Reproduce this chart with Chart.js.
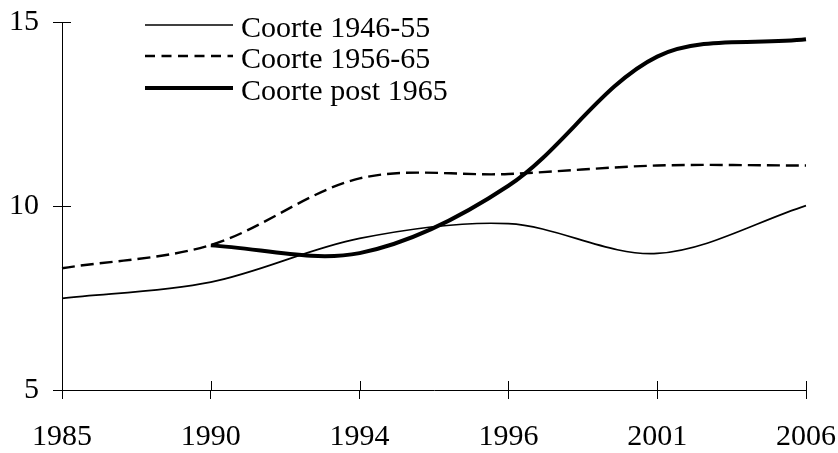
<!DOCTYPE html>
<html>
<head>
<meta charset="utf-8">
<script src="https://cdn.jsdelivr.net/npm/chart.js@4.4.0/dist/chart.umd.min.js"></script>
<style>
html,body{margin:0;padding:0;background:#fff;}
#wrap{position:relative;width:838px;height:453px;overflow:hidden;}
#chart{position:absolute;left:0;top:0;}
#legend{position:absolute;left:0;top:0;width:838px;height:453px;pointer-events:none;
  font-family:'Liberation Serif','Times New Roman',serif;font-size:30px;color:#000;}
.lg-text{position:absolute;white-space:nowrap;line-height:30px;height:30px;}
.lg-line{position:absolute;}
</style>
</head>
<body>
<div id="wrap">
  <canvas id="chart" width="838" height="453"></canvas>
  <div id="legend"></div>
</div>
<script>
// ---- data ----
const categories = ['1985', '1990', '1994', '1996', '2001', '2006'];
const seriesNames = ['Coorte 1946-55', 'Coorte 1956-65', 'Coorte post 1965'];
const cohort1946_55 = [7.49, 7.93, 9.12, 9.52, 8.71, 10.01];
const cohort1956_65 = [8.31, 8.94, 10.75, 10.87, 11.10, 11.10];
const cohortPost1965 = [null, 8.93, 8.72, 10.55, 14.06, 14.53];
const yTicks = [5, 10, 15];

// ---- styles ----
const lineStyles = [
  { borderWidth: 1.7, borderDash: [], legendDash: '' },
  { borderWidth: 2.4, borderDash: [13, 6], legendDash: '10 6.5' },
  { borderWidth: 4, borderDash: [], legendDash: '' }
];
const seriesValues = [cohort1946_55, cohort1956_65, cohortPost1965];
const FONT = "'Liberation Serif', 'Times New Roman', serif";

const datasets = seriesValues.map((vals, i) => ({
  label: seriesNames[i],
  data: vals,
  borderColor: '#000',
  backgroundColor: '#000',
  borderWidth: lineStyles[i].borderWidth,
  borderDash: lineStyles[i].borderDash,
  pointRadius: 0,
  pointHoverRadius: 0,
  tension: 0.33,
  fill: false,
  spanGaps: false
}));

const innerTicks = {
  id: 'innerTicks',
  afterDraw(chart) {
    const { ctx, chartArea, scales } = chart;
    const x = scales.x, y = scales.y;
    ctx.save();
    ctx.strokeStyle = '#000';
    ctx.lineWidth = 1;
    ctx.beginPath();
    x.ticks.forEach((t, i) => {
      const px = Math.round(x.getPixelForTick(i)) + 0.5;
      ctx.moveTo(px, chartArea.bottom);
      ctx.lineTo(px, chartArea.bottom - 9);
    });
    y.ticks.forEach((t, i) => {
      const py = Math.round(y.getPixelForTick(i)) + 0.5;
      ctx.moveTo(chartArea.left, py);
      ctx.lineTo(chartArea.left + 9, py);
    });
    ctx.stroke();
    ctx.restore();
  }
};

const chart = new Chart(document.getElementById('chart'), {
  type: 'line',
  data: { labels: categories, datasets },
  options: {
    responsive: false,
    animation: false,
    devicePixelRatio: 1,
    layout: { padding: { top: 22, right: 32, left: 0, bottom: 0 } },
    plugins: { legend: { display: false }, tooltip: { enabled: false } },
    events: [],
    scales: {
      x: {
        type: 'category',
        offset: false,
        grid: { display: true, drawOnChartArea: false, drawTicks: true, tickLength: 9, color: '#000', lineWidth: 1 },
        border: { display: true, color: '#000', width: 1 },
        ticks: { color: '#000', font: { family: FONT, size: 30 }, padding: 20, maxRotation: 0, autoSkip: false },
        afterFit: s => { s.height = 63; s.paddingLeft = 0; s.paddingRight = 0; }
      },
      y: {
        type: 'linear',
        min: 5, max: 15,
        grid: { display: true, drawOnChartArea: false, drawTicks: true, tickLength: 9, color: '#000', lineWidth: 1 },
        border: { display: true, color: '#000', width: 1 },
        ticks: { color: '#000', font: { family: FONT, size: 30 }, padding: 14 },
        afterBuildTicks: s => { s.ticks = yTicks.map(v => ({ value: v })); },
        afterFit: s => { s.width = 62; s.paddingTop = 0; s.paddingBottom = 0; }
      }
    }
  },
  plugins: [innerTicks]
});

// ---- legend (HTML text) ----
const legend = document.getElementById('legend');
const baselines = [36.7, 68.3, 100];
seriesNames.forEach((name, i) => {
  const ly = baselines[i] - 12.2;
  const svgNS = 'http://www.w3.org/2000/svg';
  const svg = document.createElementNS(svgNS, 'svg');
  svg.setAttribute('width', '90');
  svg.setAttribute('height', '10');
  svg.setAttribute('class', 'lg-line');
  svg.style.left = '145px';
  svg.style.top = (ly - 5) + 'px';
  const ln = document.createElementNS(svgNS, 'line');
  ln.setAttribute('x1', '0'); ln.setAttribute('x2', '88');
  ln.setAttribute('y1', '5'); ln.setAttribute('y2', '5');
  ln.setAttribute('stroke', '#000');
  ln.setAttribute('stroke-width', String(lineStyles[i].borderWidth));
  if (lineStyles[i].legendDash) ln.setAttribute('stroke-dasharray', lineStyles[i].legendDash);
  svg.appendChild(ln);
  legend.appendChild(svg);
  const t = document.createElement('div');
  t.className = 'lg-text';
  t.textContent = name;
  t.style.left = '241px';
  t.style.top = (baselines[i] - 25.1) + 'px';
  legend.appendChild(t);
});
</script>
</body>
</html>
